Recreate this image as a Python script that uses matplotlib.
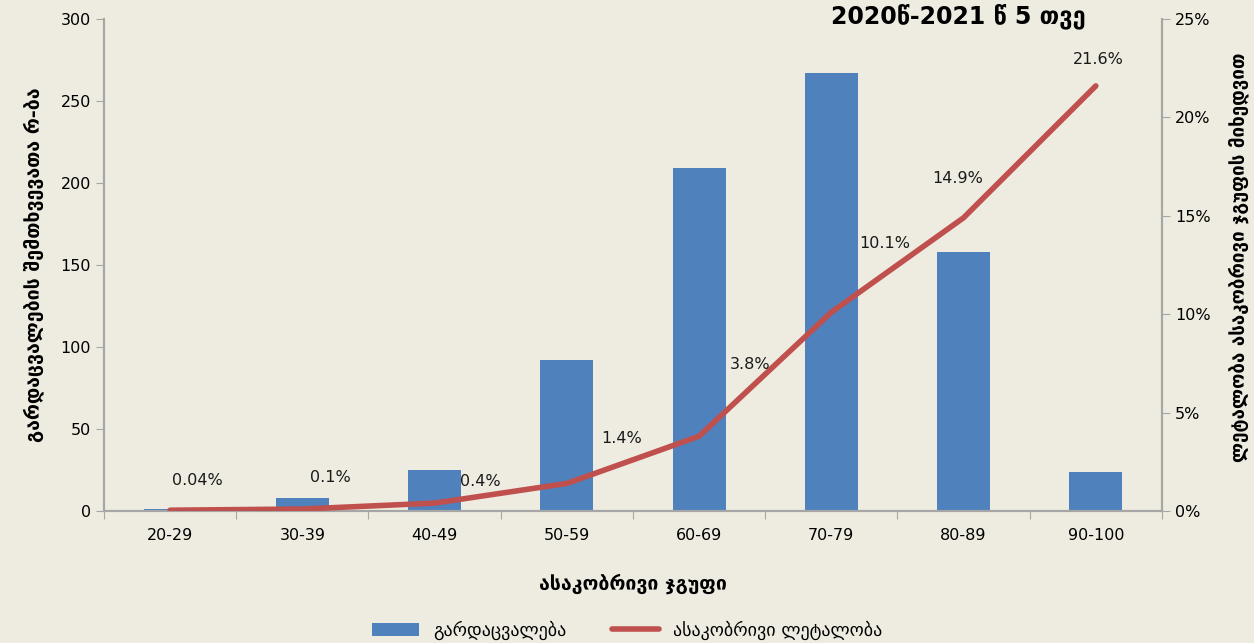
import matplotlib.pyplot as plt
from matplotlib.ticker import FuncFormatter

# data
groups = ['20-29', '30-39', '40-49', '50-59', '60-69', '70-79', '80-89', '90-100']
deaths = [1, 8, 25, 92, 209, 267, 158, 24]
lethality = [0.04, 0.1, 0.4, 1.4, 3.8, 10.1, 14.9, 21.6]
lethalityLabels = ['0.04%', '0.1%', '0.4%', '1.4%', '3.8%', '10.1%', '14.9%', '21.6%']

# label offsets in pixels (x, y) relative to each line point
labelOffsets = [(27, 30), (28, 32), (46, 22), (55, 45), (51, 72), (53, 69), (-6, 39), (2, 26)]

bg = '#EEEBE0'
barColor = '#4F81BD'
lineColor = '#C0504D'
axisColor = '#A6A6A6'

fig = plt.figure(figsize=(12.54, 6.43), dpi=100, facecolor=bg)
ax = fig.add_axes([0.0829, 0.2053, 0.8437, 0.7652])
ax.set_facecolor(bg)
x = list(range(len(groups)))

bars = ax.bar(x, deaths, width=0.4, color=barColor, label='გარდაცვალება', zorder=2)
ax.set_ylim(0, 300)
ax.set_xlim(-0.5, len(groups) - 0.5)
ax.set_yticks(range(0, 301, 50))

ax2 = ax.twinx()
line, = ax2.plot(x, lethality, color=lineColor, linewidth=4, solid_capstyle='round',
                 label='ასაკობრივი ლეტალობა', zorder=3)
ax2.set_ylim(0, 25)
ax2.set_yticks(range(0, 26, 5))
ax2.yaxis.set_major_formatter(FuncFormatter(lambda v, p: '%d%%' % v))

for i in x:
    ax2.annotate(lethalityLabels[i], (i, lethality[i]), xytext=labelOffsets[i],
                 textcoords='offset pixels', ha='center', va='center', fontsize=11.5,
                 color='#1a1a1a')

# x ticks at category boundaries, labels at centres
ax.set_xticks([i - 0.5 for i in range(len(groups) + 1)])
ax.set_xticklabels([])
ax.set_xticks(x, minor=True)
ax.set_xticklabels(groups, minor=True, fontsize=11.5)
ax.tick_params(axis='x', which='minor', length=0, pad=12)
ax.tick_params(axis='x', which='major', length=6, color=axisColor)
ax.tick_params(axis='y', length=6, color=axisColor, labelsize=11.5)
ax2.tick_params(axis='y', length=6, color=axisColor, labelsize=11.5)

for a in (ax, ax2):
    a.spines['top'].set_visible(False)
    for s in ('left', 'right', 'bottom'):
        a.spines[s].set_color(axisColor)
        a.spines[s].set_linewidth(1.5)

ax.set_ylabel('გარდაცვალების შემთხვევათა რ-ბა', fontsize=14, fontweight='bold', labelpad=12)
fig.text(0.988, 0.600, 'ლეტალობა ასაკობრივი ჯგუფის მიხედვით', fontsize=13.5,
         fontweight='bold', rotation=90, ha='center', va='center')
ax.set_xlabel('ასაკობრივი ჯგუფი', fontsize=14, fontweight='bold', labelpad=22)

fig.text(0.866, 0.975, '2020წ-2021 წ 5 თვე', ha='right', va='center', fontsize=17,
         fontweight='bold')

fig.legend(handles=[bars, line], loc='center', bbox_to_anchor=(0.5, 0.02), ncol=2,
           frameon=False, fontsize=13, handlelength=2.6, columnspacing=2.5)

fig.savefig('out.png', dpi=100, facecolor=bg)
